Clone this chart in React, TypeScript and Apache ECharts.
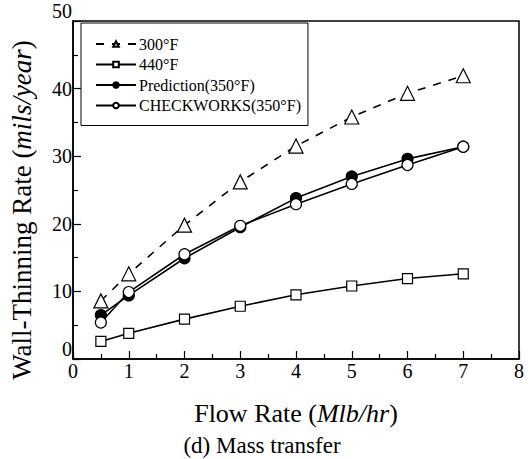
import React, { useEffect, useRef } from "react";
import * as echarts from "echarts";

const flowRates = [0.5, 1, 2, 3, 4, 5, 6, 7];
const rate300F = [8.6, 12.6, 19.8, 26.2, 31.5, 35.8, 39.3, 41.9];
const rate440F = [2.6, 3.8, 5.9, 7.8, 9.5, 10.8, 11.9, 12.6];
const prediction350F = [6.5, 9.4, 14.9, 19.5, 23.8, 27.0, 29.6, 31.4];
const checkworks350F = [5.4, 9.9, 15.5, 19.7, 22.9, 25.9, 28.7, 31.4];
const seriesNames = ["300°F", "440°F", "Prediction(350°F)", "CHECKWORKS(350°F)"];

const FONT = "Liberation Serif";

const pairs = (ys: number[]) => flowRates.map((x, i) => [x, ys[i]]);

export default function App() {
  const ref = useRef<HTMLDivElement>(null);
  useEffect(() => {
    if (!ref.current) return;
    const chart = echarts.init(ref.current, null, { renderer: "svg" });
    const lineBase = { color: "#000", width: 1.6 };
    const openItem = { color: "#fff", borderColor: "#000", borderWidth: 1.2 };
    chart.setOption({
      animation: false,
      backgroundColor: "#fff",
      grid: {
        left: 73,
        top: 21,
        right: 12,
        bottom: 100,
        show: true,
        borderColor: "#000",
        borderWidth: 1.5,
        backgroundColor: "transparent",
      },
      legend: {
        orient: "vertical",
        left: 81,
        top: 23,
        data: seriesNames,
        itemWidth: 40,
        itemHeight: 7,
        itemGap: 4.5,
        padding: [13, 7, 12, 14],
        borderColor: "#000",
        borderWidth: 1,
        backgroundColor: "#fff",
        textStyle: { fontFamily: FONT, fontSize: 16, color: "#000", padding: [0, 0, 0, -2] },
      },
      xAxis: {
        type: "value",
        min: 0,
        max: 8,
        interval: 1,
        axisLine: { lineStyle: { color: "#000", width: 1.5 } },
        axisTick: { inside: true, length: 8, lineStyle: { color: "#000", width: 1.2 } },
        minorTick: { show: true, splitNumber: 2, length: 5, lineStyle: { color: "#000", width: 1.2 } },
        splitLine: { show: false },
        axisLabel: { color: "#000", fontFamily: FONT, fontSize: 20, margin: 2 },
      },
      yAxis: {
        type: "value",
        min: 0,
        max: 50,
        interval: 10,
        axisLine: { show: true, lineStyle: { color: "#000", width: 1.5 } },
        axisTick: { show: true, inside: true, length: 8, lineStyle: { color: "#000", width: 1.2 } },
        minorTick: { show: true, splitNumber: 2, length: 5, lineStyle: { color: "#000", width: 1.2 } },
        splitLine: { show: false },
        axisLabel: {
          color: "#000",
          fontFamily: FONT,
          fontSize: 20,
          margin: 1,
          verticalAlignMinLabel: "bottom",
          verticalAlignMaxLabel: "bottom",
        },
      },
      series: [
        {
          name: seriesNames[0],
          type: "line",
          data: pairs(rate300F),
          symbol: "triangle",
          symbolSize: 14,
          lineStyle: { ...lineBase, type: [8, 8] },
          itemStyle: openItem,
        },
        {
          name: seriesNames[1],
          type: "line",
          data: pairs(rate440F),
          symbol: "rect",
          symbolSize: 10,
          lineStyle: lineBase,
          itemStyle: openItem,
        },
        {
          name: seriesNames[2],
          type: "line",
          data: pairs(prediction350F),
          symbol: "circle",
          symbolSize: 11,
          lineStyle: lineBase,
          itemStyle: { color: "#000", borderColor: "#000", borderWidth: 1.2 },
        },
        {
          name: seriesNames[3],
          type: "line",
          data: pairs(checkworks350F),
          symbol: "circle",
          symbolSize: 11,
          lineStyle: lineBase,
          itemStyle: openItem,
        },
      ],
      graphic: [
        {
          type: "text",
          x: 22,
          y: 210,
          rotation: Math.PI / 2,
          style: {
            text: "{n|Wall-Thinning Rate (}{i|mils/year}{n|)}",
            align: "center",
            verticalAlign: "middle",
            fill: "#000",
            rich: {
              n: { fontFamily: FONT, fontSize: 27, fill: "#000" },
              i: { fontFamily: FONT, fontSize: 27, fontStyle: "italic", fill: "#000" },
            },
          },
        },
        {
          type: "text",
          x: 296,
          y: 413,
          style: {
            text: "{n|Flow Rate (}{i|Mlb/hr}{n|)}",
            align: "center",
            verticalAlign: "middle",
            fill: "#000",
            rich: {
              n: { fontFamily: FONT, fontSize: 26, fill: "#000" },
              i: { fontFamily: FONT, fontSize: 26, fontStyle: "italic", fill: "#000" },
            },
          },
        },
        {
          type: "text",
          x: 262,
          y: 445,
          style: {
            text: "(d) Mass transfer",
            align: "center",
            verticalAlign: "middle",
            fontFamily: FONT,
            fontSize: 23,
            fill: "#000",
          },
        },
      ],
    });
    return () => chart.dispose();
  }, []);
  return <div ref={ref} style={{ width: 531, height: 459, position: "absolute", left: 0, top: 0 }} />;
}
